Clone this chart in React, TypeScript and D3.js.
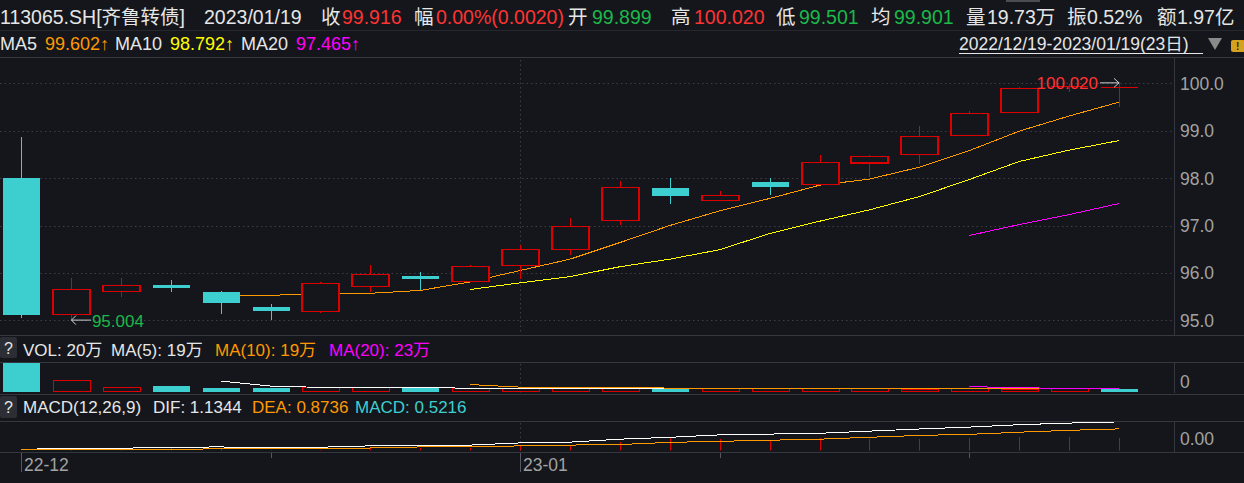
import React from 'react';
import * as d3 from 'd3';

const dates = ['2022-12-19','2022-12-20','2022-12-21','2022-12-22','2022-12-23','2022-12-26','2022-12-27','2022-12-28','2022-12-29','2022-12-30','2023-01-03','2023-01-04','2023-01-05','2023-01-06','2023-01-09','2023-01-10','2023-01-11','2023-01-12','2023-01-13','2023-01-16','2023-01-17','2023-01-18','2023-01-19'];
const openP = [98.00,95.12,95.61,95.74,95.60,95.28,95.18,95.71,95.93,95.82,96.16,96.50,97.11,97.79,97.53,97.92,97.87,98.32,98.50,98.90,99.39,99.93,99.899];
const highP = [98.87,95.89,95.89,95.85,95.61,95.34,95.81,96.17,96.02,96.16,96.58,97.15,97.94,98.00,97.73,98.00,98.49,98.49,99.10,99.42,99.92,99.98,100.020];
const lowP = [95.05,95.004,95.50,95.60,95.13,95.01,95.16,95.60,95.64,95.81,95.88,96.38,97.02,97.46,97.53,97.65,97.86,98.02,98.30,98.89,99.39,99.82,99.501];
const closeP = [95.11,95.65,95.74,95.68,95.36,95.20,95.78,95.97,95.87,96.14,96.50,96.98,97.81,97.63,97.64,97.82,98.33,98.46,98.88,99.37,99.89,99.94,99.916];
const ma5 = [null,null,null,null,95.51,95.53,95.55,95.57,95.63,95.81,96.05,96.29,96.64,97.00,97.31,97.57,97.85,97.98,98.23,98.58,98.99,99.31,99.602];
const ma10 = [null,null,null,null,null,null,null,null,null,95.65,95.79,95.92,96.13,96.29,96.49,96.83,97.09,97.33,97.61,97.97,98.35,98.59,98.792];
const ma20 = [null,null,null,null,null,null,null,null,null,null,null,null,null,null,null,null,null,null,null,96.79,97.02,97.23,97.465];
const volume = [198,74,30,39,26,26,28,28,23,21,21,30,30,20,21,20,21,19,18,19,18,19,19.73];
const dif = [0.11,0.15,0.15,0.19,0.20,0.16,0.19,0.24,0.27,0.27,0.35,0.38,0.49,0.56,0.65,0.68,0.71,0.79,0.87,0.94,1.03,1.09,1.1344];
const dea = [0.11,0.11,0.11,0.11,0.13,0.13,0.16,0.16,0.20,0.20,0.24,0.27,0.29,0.37,0.41,0.45,0.49,0.56,0.63,0.67,0.75,0.82,0.8736];
const macd = [0.00,0.08,0.08,0.15,0.15,0.08,0.08,0.15,0.15,0.15,0.22,0.26,0.40,0.52,0.49,0.46,0.52,0.49,0.49,0.52,0.58,0.58,0.5216];
const priceTicks = [95, 96, 97, 98, 99, 100];
const monthTicks = [{ date: '2022-12-19', label: '22-12' }, { date: '2023-01-03', label: '23-01' }];
const weekTicks = ['2022-12-26', '2023-01-09', '2023-01-16'];

const BG = '#14161b';
const SEP = '#34373d';
const GRID = '#3c3f46';
const RED = '#dc0000';
const CYAN = '#3dcfcf';
const TRED = '#ff3333';
const TGREEN = '#1cb84a';
const WHITE = '#e6e6e6';
const GRAY = '#a2a2a2';
const ORANGE = '#ff9900';
const YELLOW = '#ffff00';
const MAGENTA = '#ff00ff';
const FONT = '"Liberation Sans", Arial, "Noto Sans CJK SC", sans-serif';

export default function App() {
  const W = 1244, H = 483;
  const axisX = 1174;
  const x = d3.scalePoint<string>().domain(dates).range([21, 1119]);
  const y = d3.scaleLinear().domain([95, 100]).range([320.3, 83.3]);
  const yv = d3.scaleLinear().domain([0, 198]).range([391.7, 363]);
  const ym = d3.scaleLinear().domain([0, 1]).range([452.3, 425.5]);
  const bw = 37;

  const maLine = (arr: (number | null)[]) =>
    d3.line<number | null>()
      .defined(d => d != null)
      .x((_, i) => x(dates[i])!)
      .y(d => y(d as number))(arr) || '';

  const volMA = (n: number) => volume.map((_, i) => (i >= n - 1 ? d3.mean(volume.slice(i - n + 1, i + 1))! : null));
  const vLine = (arr: (number | null)[]) =>
    d3.line<number | null>()
      .defined(d => d != null)
      .x((_, i) => x(dates[i])!)
      .y(d => yv(d as number))(arr) || '';
  const mLine = (arr: number[]) =>
    d3.line<number>().x((_, i) => x(dates[i])!).y(d => ym(d))(arr) || '';

  const txt = (props: any, s: string) => (
    <text fontFamily={FONT} {...props}>{s}</text>
  );

  const hdr = [
    { x: 0, t: '113065.SH[齐鲁转债]', c: WHITE },
    { x: 204, t: '2023/01/19', c: WHITE },
    { x: 321, t: '收', c: WHITE }, { x: 342, t: '99.916', c: TRED },
    { x: 414, t: '幅', c: WHITE }, { x: 436, t: '0.00%(0.0020)', c: TRED },
    { x: 568, t: '开', c: WHITE }, { x: 592, t: '99.899', c: TGREEN },
    { x: 671, t: '高', c: WHITE }, { x: 694, t: '100.020', c: TRED },
    { x: 776, t: '低', c: WHITE }, { x: 799, t: '99.501', c: TGREEN },
    { x: 871, t: '均', c: WHITE }, { x: 894, t: '99.901', c: TGREEN },
    { x: 966, t: '量', c: WHITE }, { x: 987, t: '19.73万', c: WHITE },
    { x: 1067, t: '振', c: WHITE }, { x: 1087, t: '0.52%', c: WHITE },
    { x: 1157, t: '额', c: WHITE }, { x: 1177, t: '1.97亿', c: WHITE },
  ];
  const hdr2 = [
    { x: 0, t: 'MA5', c: WHITE }, { x: 45, t: '99.602↑', c: ORANGE },
    { x: 115, t: 'MA10', c: WHITE }, { x: 170, t: '98.792↑', c: YELLOW },
    { x: 241, t: 'MA20', c: WHITE }, { x: 296, t: '97.465↑', c: MAGENTA },
  ];

  const minIdx = lowP.indexOf(d3.min(lowP)!);
  const maxIdx = highP.indexOf(d3.max(highP)!);
  const mnx = x(dates[minIdx])!, mny = y(lowP[minIdx]);
  const mxx = x(dates[maxIdx])!, mxy = y(highP[maxIdx]);

  return (
    <div style={{ position: 'absolute', left: 0, top: 0 }}>
      <svg width={W} height={H} style={{ display: 'block', background: BG }}>
        <rect x={0} y={0} width={W} height={H} fill={BG} />
        <rect x={1006} y={0} width={34} height={2} fill="#4a4d54" />
        {/* header row 1 */}
        {hdr.map((h, i) => (
          <text key={i} x={h.x} y={24} fontSize={19.5} fill={h.c} fontFamily={FONT}>{h.t}</text>
        ))}
        <line x1={0} x2={W} y1={30.5} y2={30.5} stroke="#26282d" />
        {hdr2.map((h, i) => (
          <text key={i} x={h.x} y={50} fontSize={18} fill={h.c} fontFamily={FONT}>{h.t}</text>
        ))}
        <text x={959} y={50} fontSize={17.5} fill={WHITE} fontFamily={FONT}>2022/12/19-2023/01/19(23日)</text>
        <line x1={959} x2={1203} y1={53.5} y2={53.5} stroke={WHITE} strokeWidth={1} />
        <path d="M1208,38 L1222,38 L1215,50 Z" fill="#8a8a8a" />
        <rect x={1231} y={40} width={14} height={12} rx={2} fill="#d6a21e" />
        <text x={1236} y={50} fontSize={10} fill="#222" fontFamily={FONT} fontWeight="bold">!</text>
        <line x1={0} x2={W} y1={57.5} y2={57.5} stroke={SEP} />

        {/* main grid */}
        {priceTicks.map(t => (
          <g key={t}>
            <line x1={0} x2={axisX} y1={Math.round(y(t)) + 0.5} y2={Math.round(y(t)) + 0.5} stroke={GRID} strokeDasharray="1.5,3" />
            {txt({ x: 1180, y: y(t) + 6.5, fontSize: 17.5, fill: GRAY }, t.toFixed(1))}
          </g>
        ))}
        <line x1={520.5} x2={520.5} y1={60} y2={333} stroke={GRID} strokeDasharray="1.5,3" />
        <line x1={axisX + 0.5} x2={axisX + 0.5} y1={58} y2={335} stroke={SEP} />

        {/* MA lines */}
        <path d={maLine(ma5)} fill="none" stroke={ORANGE} strokeWidth={1} shapeRendering="crispEdges" />
        <path d={maLine(ma10)} fill="none" stroke={YELLOW} strokeWidth={1} shapeRendering="crispEdges" />
        <path d={maLine(ma20)} fill="none" stroke={MAGENTA} strokeWidth={1} shapeRendering="crispEdges" />

        {/* candles */}
        {dates.map((d, i) => {
          const cx = Math.round(x(d)!) + 0.5;
          const up = closeP[i] >= openP[i];
          const top = y(Math.max(openP[i], closeP[i]));
          const bot = y(Math.min(openP[i], closeP[i]));
          const col = up ? RED : CYAN;
          const h = Math.max(bot - top, 1);
          return (
            <g key={d} shapeRendering="crispEdges">
              <line x1={cx} x2={cx} y1={y(highP[i])} y2={top} stroke={col} />
              <line x1={cx} x2={cx} y1={top + h} y2={y(lowP[i])} stroke={col} />
              {up ? (
                h <= 1.5 ? (
                  <line x1={cx - bw / 2} x2={cx + bw / 2} y1={top} y2={top} stroke={col} />
                ) : (
                  <rect x={cx - bw / 2} y={top} width={bw} height={h} fill={BG} stroke={col} strokeWidth={1.2} />
                )
              ) : (
                <rect x={cx - bw / 2} y={top} width={bw} height={h} fill={col} />
              )}
            </g>
          );
        })}

        {/* min / max labels */}
        <path d={`M${mnx + 20},${mny} L${mnx + 0.5},${mny} M${mnx + 5},${mny - 4.5} L${mnx + 0.5},${mny} L${mnx + 5},${mny + 4.5}`} stroke="#d0d0d0" fill="none" />
        {txt({ x: mnx + 21, y: mny + 6.5, fontSize: 17, fill: TGREEN }, lowP[minIdx].toFixed(3))}
        <path d={`M${mxx - 19},${mxy + 0.5} L${mxx},${mxy + 0.5} M${mxx - 5},${mxy - 4} L${mxx},${mxy + 0.5} L${mxx - 5},${mxy + 5}`} stroke="#d0d0d0" fill="none" />
        {txt({ x: mxx - 21, y: mxy + 6.5, fontSize: 17, fill: TRED, textAnchor: 'end' }, highP[maxIdx].toFixed(3))}

        <line x1={0} x2={W} y1={335.5} y2={335.5} stroke={SEP} />

        {/* volume header */}
        <rect x={0} y={337} width={17} height={21} rx={2} fill="#2b2e34" />
        {txt({ x: 4, y: 354, fontSize: 16, fill: WHITE }, '?')}
        {txt({ x: 23, y: 356, fontSize: 17, fill: WHITE }, 'VOL: 20万')}
        {txt({ x: 111, y: 356, fontSize: 17, fill: WHITE }, 'MA(5): 19万')}
        {txt({ x: 215, y: 356, fontSize: 17, fill: ORANGE }, 'MA(10): 19万')}
        {txt({ x: 329, y: 356, fontSize: 17, fill: MAGENTA }, 'MA(20): 23万')}
        <line x1={0} x2={W} y1={362.5} y2={362.5} stroke={SEP} />

        {/* volume bars */}
        <line x1={520.5} x2={520.5} y1={364} y2={393} stroke={GRID} strokeDasharray="1.5,3" />
        {dates.map((d, i) => {
          const cx = Math.round(x(d)!) + 0.5;
          const up = i === 0 ? closeP[i] >= openP[i] : closeP[i] >= closeP[i - 1];
          const top = yv(volume[i]);
          const h = yv(0) - top;
          return up ? (
            <rect key={d} x={cx - bw / 2} y={top} width={bw} height={h} fill="none" stroke={RED} shapeRendering="crispEdges" />
          ) : (
            <rect key={d} x={cx - bw / 2} y={top} width={bw} height={h} fill={CYAN} shapeRendering="crispEdges" />
          );
        })}
        <path d={vLine(volMA(5))} fill="none" stroke="#ffffff" shapeRendering="crispEdges" />
        <path d={vLine(volMA(10))} fill="none" stroke={ORANGE} shapeRendering="crispEdges" />
        <path d={vLine(volMA(20))} fill="none" stroke={MAGENTA} shapeRendering="crispEdges" />
        <line x1={axisX + 0.5} x2={axisX + 0.5} y1={362} y2={393} stroke={SEP} />
        {txt({ x: 1180, y: 388, fontSize: 17.5, fill: GRAY }, '0')}
        <line x1={0} x2={W} y1={394.5} y2={394.5} stroke={SEP} />

        {/* MACD header */}
        <rect x={0} y={396} width={17} height={22} rx={2} fill="#2b2e34" />
        {txt({ x: 4, y: 413, fontSize: 16, fill: WHITE }, '?')}
        {txt({ x: 23, y: 413, fontSize: 17, fill: WHITE }, 'MACD(12,26,9)')}
        {txt({ x: 153, y: 413, fontSize: 17, fill: WHITE }, 'DIF: 1.1344')}
        {txt({ x: 252, y: 413, fontSize: 17, fill: ORANGE }, 'DEA: 0.8736')}
        {txt({ x: 355, y: 413, fontSize: 17, fill: CYAN }, 'MACD: 0.5216')}
        <line x1={0} x2={W} y1={421.5} y2={421.5} stroke={SEP} />

        {/* MACD */}
        <line x1={520.5} x2={520.5} y1={423} y2={451} stroke={GRID} strokeDasharray="1.5,3" />
        <defs>
          <clipPath id="mclip"><rect x={0} y={422} width={axisX} height={28.5} /></clipPath>
        </defs>
        <g clipPath="url(#mclip)">
          {dates.map((d, i) => (
            <line key={d} x1={Math.round(x(d)!) + 0.5} x2={Math.round(x(d)!) + 0.5} y1={ym(0)} y2={ym(macd[i])} stroke={macd[i] >= 0 ? RED : CYAN} shapeRendering="crispEdges" />
          ))}
          <path d={mLine(dif)} fill="none" stroke="#ffffff" shapeRendering="crispEdges" />
          <path d={mLine(dea)} fill="none" stroke={ORANGE} shapeRendering="crispEdges" />
        </g>
        <line x1={axisX + 0.5} x2={axisX + 0.5} y1={421} y2={452} stroke={SEP} />
        {txt({ x: 1180, y: 445, fontSize: 17.5, fill: GRAY }, '0.00')}
        <line x1={0} x2={W} y1={452.5} y2={452.5} stroke={SEP} />

        {/* x axis */}
        {monthTicks.map(m => (
          <g key={m.date}>
            <line x1={Math.round(x(m.date)!) + 0.5} x2={Math.round(x(m.date)!) + 0.5} y1={453} y2={472} stroke="#55585e" />
            {txt({ x: x(m.date)! + 3, y: 471, fontSize: 17.5, fill: GRAY }, m.label)}
          </g>
        ))}
        {weekTicks.map(w => (
          <line key={w} x1={Math.round(x(w)!) + 0.5} x2={Math.round(x(w)!) + 0.5} y1={453} y2={458} stroke="#55585e" />
        ))}
      </svg>
    </div>
  );
}
